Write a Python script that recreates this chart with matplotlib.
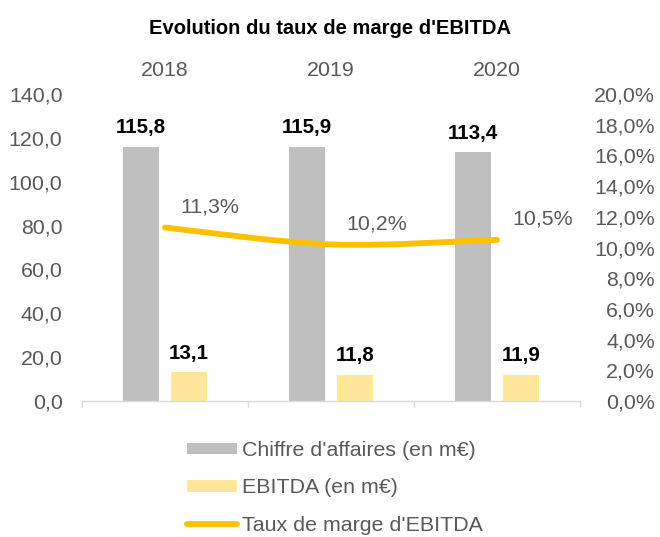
import matplotlib
matplotlib.use("Agg")
import matplotlib.pyplot as plt
import numpy as np
from matplotlib.path import Path
from matplotlib.patches import PathPatch, Patch
from matplotlib.lines import Line2D
from matplotlib.ticker import FuncFormatter, FixedLocator

plt.rcParams['font.family'] = ['Liberation Sans', 'DejaVu Sans']

years = ["2018", "2019", "2020"]
ca = [115.8, 115.9, 113.4]
ebitda = [13.1, 11.8, 11.9]
marge = [0.113, 0.102, 0.105]
marge_labels = ["11,3%", "10,2%", "10,5%"]
title = "Evolution du taux de marge d'EBITDA"
legend_labels = ["Chiffre d'affaires (en m€)", "EBITDA (en m€)", "Taux de marge d'EBITDA"]

C_GRAY = "#BFBFBF"
C_YEL = "#FFE699"
C_LINE = "#FFC000"
C_TXT = "#595959"
C_AX = "#D9D9D9"
FS = 15.4
FSB = 14.8

fig = plt.figure(figsize=(6.6, 5.37), dpi=100)
ax = fig.add_axes([82/660, 1-401/537, 498/660, 307/537])
x = np.arange(len(years))
bw = 0.2175
off = 0.145
b1 = ax.bar(x - off, ca, bw, color=C_GRAY, zorder=2)
b2 = ax.bar(x + off, ebitda, bw, color=C_YEL, zorder=2)
fmt = lambda v: f"{v:.1f}".replace(".", ",")
ax.bar_label(b1, labels=[fmt(v) for v in ca], padding=7, fontsize=FSB, fontweight='bold', color='black')
ax.bar_label(b2, labels=[fmt(v) for v in ebitda], padding=7, fontsize=FSB, fontweight='bold', color='black')

ax.set_xlim(-0.5, len(years) - 0.5)
ax.set_ylim(0, 140)
ax.yaxis.set_major_locator(FixedLocator(np.arange(0, 141, 20)))
ax.yaxis.set_major_formatter(FuncFormatter(lambda v, p: f"{v:.1f}".replace(".", ",")))
ax.tick_params(axis='y', length=0, pad=14, labelsize=FS, labelcolor=C_TXT)
ax.set_xticks(x)
ax.set_xticklabels(years)
ax.tick_params(axis='x', which='major', bottom=False, labelbottom=False, top=True, labeltop=True,
               length=0, pad=10, labelsize=FS, labelcolor=C_TXT)
ax.set_xticks(np.arange(-0.5, len(years), 1.0), minor=True)
ax.tick_params(axis='x', which='minor', bottom=True, top=False, length=4, width=1, color=C_AX)
for s in ['top', 'left', 'right']:
    ax.spines[s].set_visible(False)
ax.spines['bottom'].set_color(C_AX)
ax.spines['bottom'].set_linewidth(1)

ax2 = ax.twinx()
ax2.set_ylim(0, 0.20)
ax2.yaxis.set_major_locator(FixedLocator(np.arange(0, 0.2001, 0.02)))
ax2.yaxis.set_major_formatter(FuncFormatter(lambda v, p: f"{v*100:.1f}%".replace(".", ",")))
ax2.tick_params(axis='y', length=0, pad=54, labelsize=FS, labelcolor=C_TXT)
for t in ax2.get_yticklabels():
    t.set_ha('right')
for s in ax2.spines.values():
    s.set_visible(False)

# smoothed line (Bezier through the data points)
pts = np.column_stack([x, marge]).astype(float)
n = len(pts)
verts = [tuple(pts[0])]
codes = [Path.MOVETO]
for i in range(n - 1):
    p0 = pts[max(i - 1, 0)]
    p1 = pts[i]
    p2 = pts[i + 1]
    p3 = pts[min(i + 2, n - 1)]
    c1 = p1 + (p2 - p0) / 6
    c2 = p2 - (p3 - p1) / 6
    verts += [tuple(c1), tuple(c2), tuple(p2)]
    codes += [Path.CURVE4] * 3
ax2.add_patch(PathPatch(Path(verts, codes), fill=False, edgecolor=C_LINE, lw=4.2,
                        capstyle='round', joinstyle='round', zorder=3))
for xi, yi, lab in zip(x, marge, marge_labels):
    ax2.annotate(lab, (xi, yi), xytext=(11, 15), textcoords='offset points',
                 ha='left', va='center', fontsize=FS, color=C_TXT)

fig.text(0.5, 1 - 29/537, title, ha='center', va='center', fontsize=14.5, fontweight='bold', color='black')

handles = [Patch(facecolor=C_GRAY, edgecolor='none'),
           Patch(facecolor=C_YEL, edgecolor='none'),
           Line2D([0], [0], color=C_LINE, lw=4.2, solid_capstyle='round')]
leg = fig.legend(handles, legend_labels, loc='upper left', bbox_to_anchor=(187/660, 1 - 441/537),
                 frameon=False, fontsize=FS, handlelength=2.35, handleheight=0.47, handletextpad=0.22,
                 labelspacing=0.86, borderpad=0, borderaxespad=0)
for t in leg.get_texts():
    t.set_color(C_TXT)

fig.savefig("out.png", dpi=100)
